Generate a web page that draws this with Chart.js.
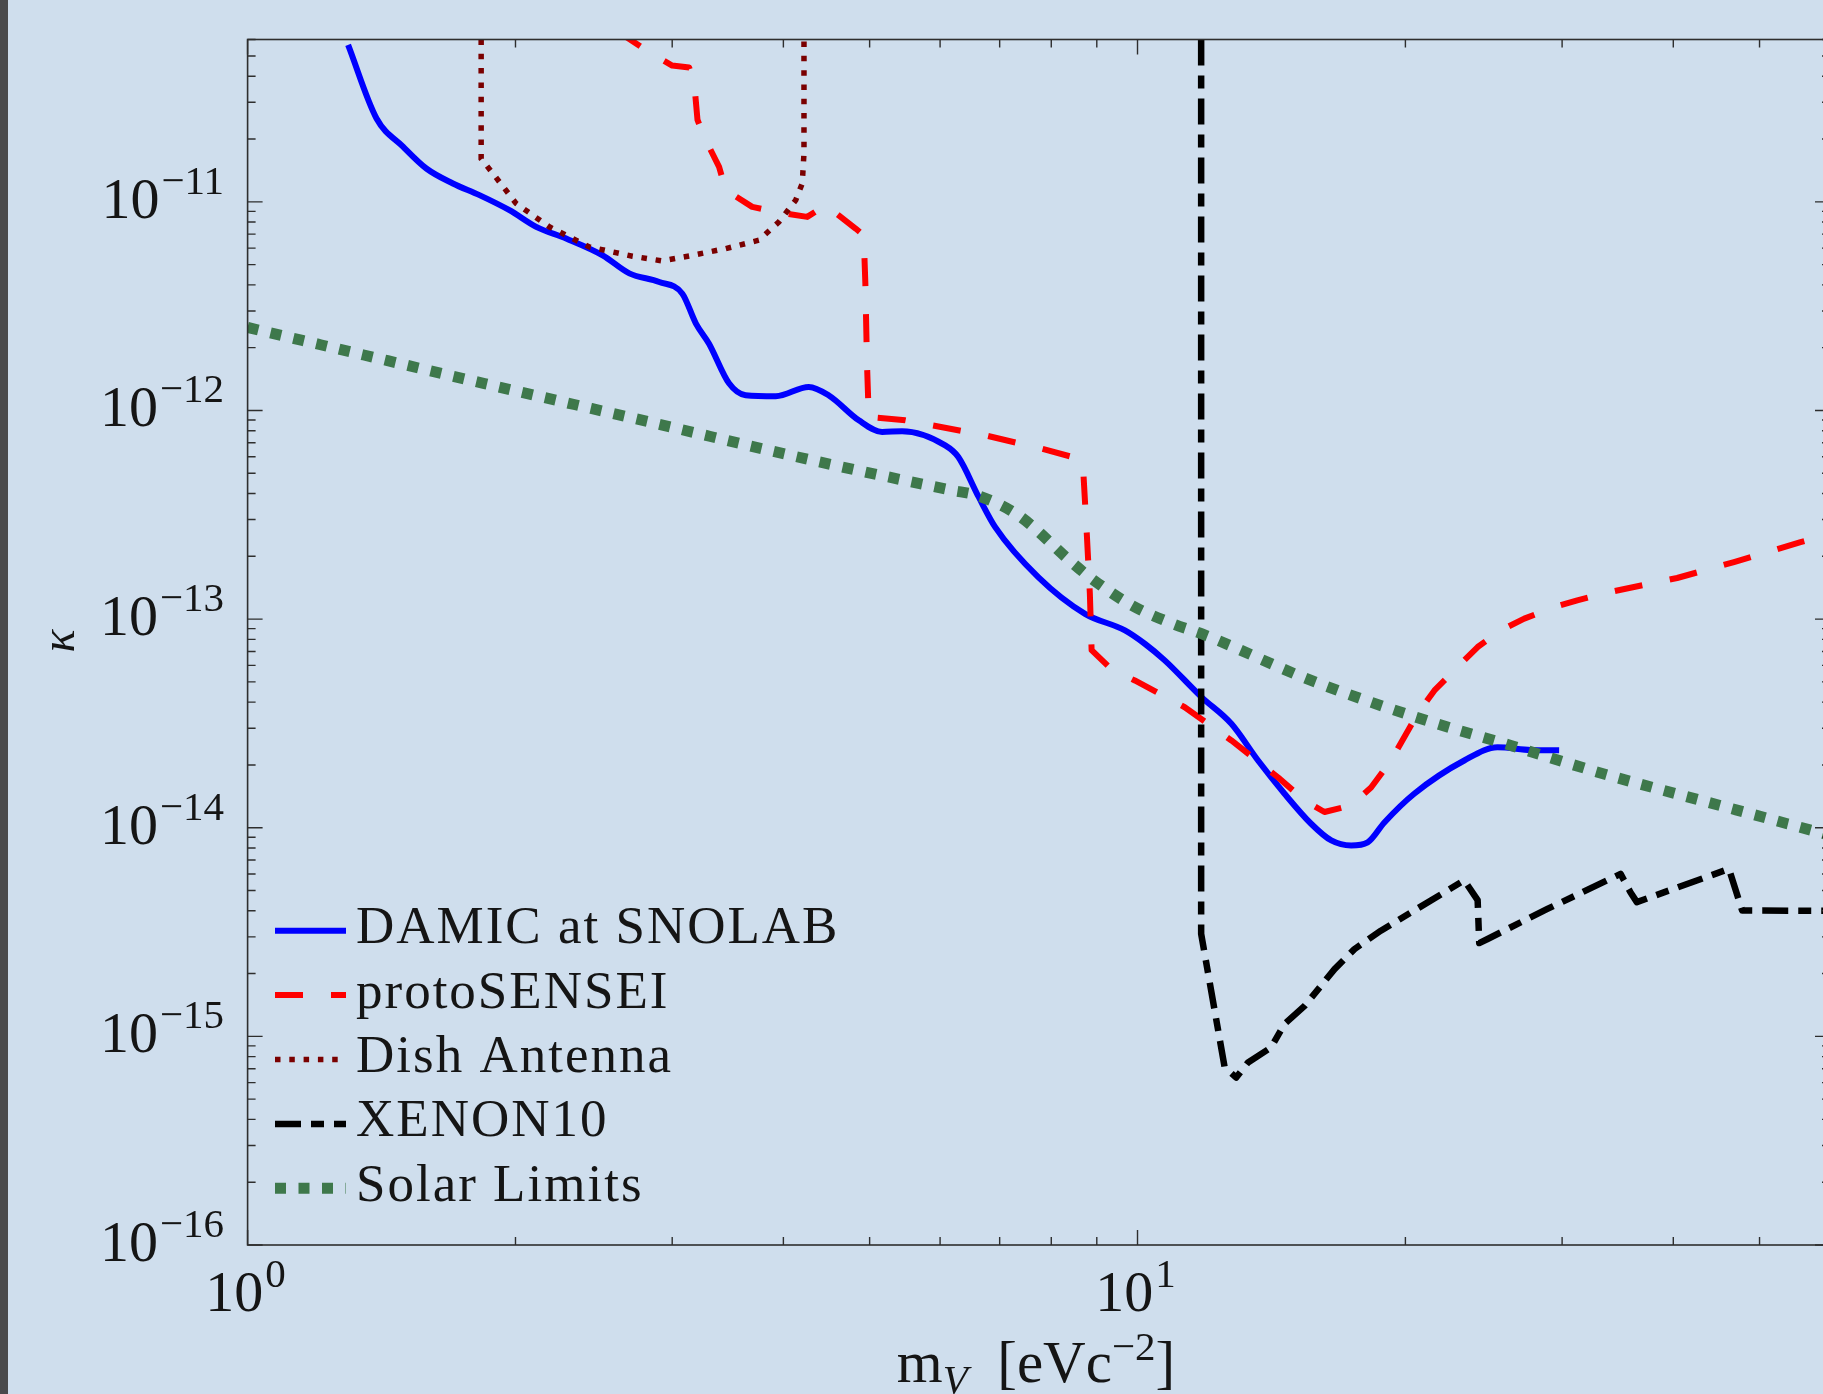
<!DOCTYPE html>
<html>
<head>
<meta charset="utf-8">
<title>Dark photon limits</title>
<script src="https://cdn.jsdelivr.net/npm/chart.js@4.4.1/dist/chart.umd.min.js"></script>
<style>
  html, body { margin: 0; padding: 0; overflow: hidden; background: #cfdeed; }
  #wrap { position: relative; width: 1850px; height: 1394px; }
</style>
</head>
<body>
<div id="wrap"><canvas id="limitChart" width="1850" height="1394"></canvas></div>
<script>
// dark photon mass m_V [eV/c^2] and kinetic mixing kappa
var seriesLabels = ['DAMIC at SNOLAB', 'protoSENSEI', 'Dish Antenna', 'XENON10', 'Solar Limits'];

var damicMass = [1.297, 1.396, 1.495, 1.588, 1.701, 1.822, 1.969, 2.11, 2.28, 2.506, 2.685, 2.901, 3.08, 3.19, 3.30, 3.475, 3.628, 3.922, 4.272, 4.5, 4.862, 5.164, 5.438, 6.08, 6.29, 6.63, 6.92, 7.74, 8.73, 9.68, 10.19, 10.73, 11.8, 12.75, 13.66, 14.63, 15.67, 16.51, 17.38, 18.14, 18.94, 20.46, 23.29, 25.38, 27.66, 29.77];
var damicKappa = [5.65e-11, 2.51e-11, 1.84e-11, 1.445e-11, 1.225e-11, 1.077e-11, 9.12e-12, 7.59e-12, 6.67e-12, 5.54e-12, 4.54e-12, 4.13e-12, 3.63e-12, 2.61e-12, 2.09e-12, 1.35e-12, 1.183e-12, 1.17e-12, 1.297e-12, 1.18e-12, 8.97e-13, 7.89e-13, 7.95e-13, 6.8e-13, 5.98e-13, 3.85e-13, 2.76e-13, 1.585e-13, 1.06e-13, 8.83e-14, 7.62e-14, 6.34e-14, 4.23e-14, 3.15e-14, 2.1e-14, 1.455e-14, 1.045e-14, 8.69e-15, 8.22e-15, 8.51e-15, 1.06e-14, 1.455e-14, 2.1e-14, 2.43e-14, 2.36e-14, 2.35e-14];

var protoMass = [2.60, 2.84, 3.00, 3.135, 3.176, 3.203, 3.258, 3.387, 3.446, 3.69, 3.922, 4.254, 4.461, 4.822, 4.924, 4.945, 4.966, 4.989, 5.484, 6.745, 7.8, 8.58, 8.69, 8.77, 8.84, 8.88, 9.35, 9.93, 11.3, 12.75, 14.38, 15.41, 16.22, 17.38, 18.3, 19.27, 20.64, 21.56, 22.89, 24.11, 25.6, 27.2, 29.38, 31.2, 34.0, 40.4, 46.8, 55.6, 60];
var protoKappa = [6.6e-11, 5.15e-11, 4.5e-11, 4.4e-11, 3.7e-11, 2.47e-11, 2.05e-11, 1.47e-11, 1.14e-11, 9.46e-12, 8.95e-12, 8.47e-12, 9.64e-12, 7.45e-12, 6.92e-12, 4.07e-12, 1.68e-12, 9.3e-13, 8.97e-13, 7.6e-13, 6.56e-13, 5.88e-13, 5.16e-13, 2.57e-13, 1.325e-13, 7.1e-14, 5.75e-14, 5.08e-14, 3.78e-14, 2.62e-14, 1.746e-14, 1.35e-14, 1.19e-14, 1.28e-14, 1.56e-14, 2.1e-14, 3.52e-14, 4.55e-14, 5.89e-14, 7.35e-14, 8.83e-14, 1.005e-13, 1.14e-13, 1.23e-13, 1.35e-13, 1.574e-13, 1.876e-13, 2.34e-13, 2.55e-13];

var dishMass = [1.83, 1.83, 1.886, 2.003, 2.183, 2.421, 2.707, 2.925, 3.16, 3.446, 3.755, 3.955, 4.13, 4.2, 4.219, 4.219];
var dishKappa = [6e-11, 1.61e-11, 1.37e-11, 9.83e-12, 7.59e-12, 6.08e-12, 5.49e-12, 5.21e-12, 5.54e-12, 5.97e-12, 6.55e-12, 8.02e-12, 1.02e-11, 1.225e-11, 1.71e-11, 6e-11];

var xenonMass = [11.79, 11.79, 12.53, 12.91, 13.31, 14.13, 14.63, 15.41, 16.65, 17.53, 18.77, 20.46, 23.29, 24.11, 24.21, 24.74, 28.88, 34.9, 35.8, 36.4, 46.2, 47.8, 60];
var xenonKappa = [6e-11, 3.1e-15, 7.1e-16, 6.35e-16, 7.5e-16, 8.85e-16, 1.147e-15, 1.4e-15, 2.1e-15, 2.62e-15, 3.21e-15, 4.01e-15, 5.6e-15, 4.5e-15, 2.8e-15, 2.93e-15, 4.08e-15, 6.01e-15, 4.91e-15, 4.4e-15, 6.35e-15, 4.01e-15, 4.0e-15];

var solarMass = [1, 1.211, 1.846, 2.827, 4.31, 6.19, 6.6, 7.35, 8.43, 8.88, 9.85, 10.96, 11.8, 15.67, 20.82, 26.27, 33.43, 45.2, 60];
var solarKappa = [2.5e-12, 2.06e-12, 1.345e-12, 8.81e-13, 5.77e-13, 4.14e-13, 3.92e-13, 3.14e-13, 1.875e-13, 1.563e-13, 1.164e-13, 9.5e-14, 8.51e-14, 5.08e-14, 3.33e-14, 2.48e-14, 1.81e-14, 1.276e-14, 9.2e-15];

var xTickExps = [0, 1];
var yTickExps = [-11, -12, -13, -14, -15, -16];

function toPoints(xs, ys) {
  return xs.map(function (x, i) { return { x: x, y: ys[i] }; });
}

var FONT = '"Liberation Serif", "Times New Roman", serif';

// draws 10^exp as base + raised exponent
function drawPower(ctx, exp, x, baseY, align) {
  var sup = exp < 0 ? '\u2212' + (-exp) : String(exp);
  ctx.font = '58px ' + FONT;
  var wb = ctx.measureText('10').width;
  ctx.font = '41px ' + FONT;
  var ws = ctx.measureText(sup).width;
  var total = wb + 2 + ws;
  var x0 = align === 'right' ? x - total : x - total / 2;
  ctx.textAlign = 'left';
  ctx.textBaseline = 'alphabetic';
  ctx.font = '58px ' + FONT;
  ctx.fillText('10', x0, baseY);
  ctx.font = '41px ' + FONT;
  ctx.fillText(sup, x0 + wb + 2, baseY - 24);
}

var pagePlugin = {
  id: 'page',
  beforeDraw: function (chart) {
    var ctx = chart.ctx;
    ctx.save();
    ctx.fillStyle = '#cfdeed';
    ctx.fillRect(0, 0, chart.width, chart.height);
    ctx.fillStyle = '#4a4a4c';
    ctx.fillRect(0, 0, 8, chart.height);
    ctx.restore();
  }
};

var framePlugin = {
  id: 'frame',
  afterDatasetsDraw: function (chart) {
    var ctx = chart.ctx, a = chart.chartArea;
    var xs = chart.scales.x, ys = chart.scales.y;
    ctx.save();
    ctx.strokeStyle = '#2e2e2e';
    ctx.lineWidth = 1.6;
    ctx.setLineDash([]);
    ctx.strokeRect(a.left, a.top, a.right - a.left, a.bottom - a.top);

    // inward ticks on all four sides
    ctx.lineWidth = 1.4;
    ctx.beginPath();
    var e, k, v, p, len;
    for (e = 0; e <= 1; e++) {
      for (k = 1; k <= 9; k++) {
        v = k * Math.pow(10, e);
        if (v < xs.min || v > xs.max) continue;
        p = xs.getPixelForValue(v);
        len = k === 1 ? 15 : 8;
        ctx.moveTo(p, a.bottom); ctx.lineTo(p, a.bottom - len);
        ctx.moveTo(p, a.top); ctx.lineTo(p, a.top + len);
      }
    }
    for (e = -16; e <= -11; e++) {
      for (k = 1; k <= 9; k++) {
        v = k * Math.pow(10, e);
        if (v < ys.min * 0.999 || v > ys.max * 1.001) continue;
        p = ys.getPixelForValue(v);
        len = k === 1 ? 15 : 8;
        ctx.moveTo(a.left, p); ctx.lineTo(a.left + len, p);
        ctx.moveTo(a.right, p); ctx.lineTo(a.right - len, p);
      }
    }
    ctx.stroke();

    // tick labels
    ctx.fillStyle = '#151515';
    yTickExps.forEach(function (ex) {
      var py = ys.getPixelForValue(Math.pow(10, ex));
      drawPower(ctx, ex, 224, py + 16, 'right');
    });
    xTickExps.forEach(function (ex) {
      var px = xs.getPixelForValue(Math.pow(10, ex));
      drawPower(ctx, ex, px - 2, a.bottom + 66, 'center');
    });

    // x title: m_V [eVc^-2]
    var parts = [
      { t: 'm', f: '59px ' + FONT, dy: 0 },
      { t: 'V', f: 'italic 41px ' + FONT, dy: 11 },
      { t: '\u2002[eVc', f: '59px ' + FONT, dy: 0 },
      { t: '\u22122', f: '41px ' + FONT, dy: -22 },
      { t: ']', f: '59px ' + FONT, dy: 0 }
    ];
    var total = 0;
    parts.forEach(function (pt) { ctx.font = pt.f; pt.w = ctx.measureText(pt.t).width; total += pt.w; });
    var cx = 1036 - total / 2;
    ctx.textAlign = 'left';
    parts.forEach(function (pt) {
      ctx.font = pt.f;
      ctx.fillText(pt.t, cx, 1382 + pt.dy);
      cx += pt.w;
    });

    // y title: kappa, rotated
    ctx.save();
    ctx.translate(61, 641);
    ctx.rotate(-Math.PI / 2);
    ctx.font = 'italic 48px ' + FONT;
    ctx.textAlign = 'center';
    ctx.textBaseline = 'middle';
    ctx.fillText('\u03ba', 0, 0);
    ctx.restore();

    // legend inside the plot, lower left
    chart.data.datasets.forEach(function (ds, i) {
      var ly = 930.7 + i * 64.4;
      ctx.beginPath();
      ctx.strokeStyle = ds.borderColor;
      ctx.lineWidth = ds.borderWidth;
      ctx.lineCap = 'butt';
      ctx.setLineDash(ds.borderDash || []);
      ctx.moveTo(275, ly);
      ctx.lineTo(346, ly);
      ctx.stroke();
      ctx.setLineDash([]);
      ctx.fillStyle = '#151515';
      ctx.font = '53px ' + FONT;
      if ('letterSpacing' in ctx) ctx.letterSpacing = '2px';
      ctx.textAlign = 'left';
      ctx.textBaseline = 'alphabetic';
      ctx.fillText(ds.label, 356, ly + 12.5);
      if ('letterSpacing' in ctx) ctx.letterSpacing = '0px';
    });
    ctx.restore();
  }
};

var ctx = document.getElementById('limitChart').getContext('2d');
var limitChart = new Chart(ctx, {
  type: 'line',
  data: {
    datasets: [{
      label: seriesLabels[0],
      data: toPoints(damicMass, damicKappa),
      borderColor: '#0000ff',
      borderWidth: 6,
      cubicInterpolationMode: 'monotone',
      borderJoinStyle: 'round',
      order: 5
    }, {
      label: seriesLabels[1],
      data: toPoints(protoMass, protoKappa),
      borderColor: '#ff0000',
      borderWidth: 6,
      borderDash: [28, 28],
      borderCapStyle: 'butt',
      borderJoinStyle: 'round',
      order: 4
    }, {
      label: seriesLabels[2],
      data: toPoints(dishMass, dishKappa),
      borderColor: '#7a0000',
      borderWidth: 5.5,
      borderDash: [5.5, 8.8],
      borderCapStyle: 'butt',
      order: 3
    }, {
      label: seriesLabels[3],
      data: toPoints(xenonMass, xenonKappa),
      borderColor: '#000000',
      borderWidth: 6.5,
      borderDash: [26, 10, 13, 10],
      borderCapStyle: 'butt',
      borderJoinStyle: 'round',
      order: 2
    }, {
      label: seriesLabels[4],
      data: toPoints(solarMass, solarKappa),
      borderColor: '#3e784b',
      borderWidth: 11,
      borderDash: [11, 12.5],
      borderCapStyle: 'butt',
      cubicInterpolationMode: 'monotone',
      order: 1
    }]
  },
  options: {
    responsive: false,
    animation: false,
    devicePixelRatio: 1,
    layout: { padding: { left: 247.6, top: 39.5, right: 20, bottom: 149 } },
    elements: { point: { radius: 0 }, line: { tension: 0, fill: false } },
    plugins: { legend: { display: false }, tooltip: { enabled: false } },
    scales: {
      x: { type: 'logarithmic', min: 1, max: 60, display: false },
      y: { type: 'logarithmic', min: 1e-16, max: 6e-11, display: false }
    }
  },
  plugins: [pagePlugin, framePlugin]
});
</script>
</body>
</html>
